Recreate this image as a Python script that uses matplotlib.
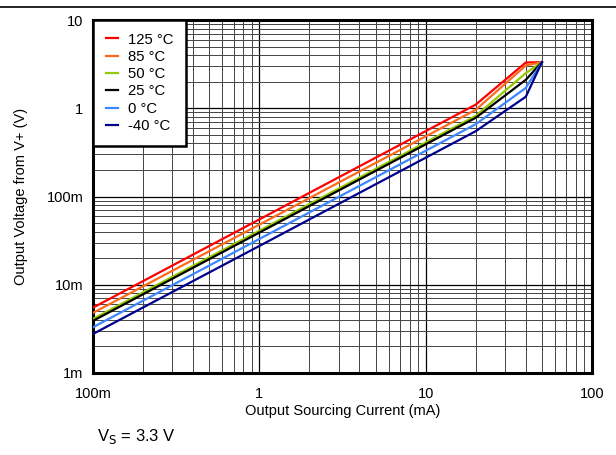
import matplotlib
matplotlib.use("Agg")
import matplotlib.pyplot as plt
from matplotlib.lines import Line2D
from matplotlib.ticker import FixedLocator, LogLocator, NullFormatter

plt.rcParams['font.family'] = ['Liberation Sans', 'DejaVu Sans']

# output sourcing current (mA)
current = [0.1, 1, 10, 20, 40, 50]

# output voltage from V+ (V), per temperature
v_125 = [5.5e-3, 55e-3, 0.55, 1.10, 3.30, 3.33]
v_85 = [4.8e-3, 48e-3, 0.48, 0.96, 3.05, 3.33]
v_50 = [4.1e-3, 41e-3, 0.41, 0.82, 2.50, 3.33]
v_25 = [3.9e-3, 39e-3, 0.39, 0.78, 2.10, 3.33]
v_0 = [3.3e-3, 33e-3, 0.33, 0.66, 1.70, 3.33]
v_m40 = [2.77e-3, 27.5e-3, 0.275, 0.55, 1.35, 3.33]

labels = ["125 °C", "85 °C", "50 °C", "25 °C", "0 °C", "-40 °C"]
colors = ["#ff0000", "#ff6a1a", "#96c800", "#000000", "#3c87ff", "#00008c"]
series = [v_125, v_85, v_50, v_25, v_0, v_m40]

x_ticks = [0.1, 1, 10, 100]
x_ticklabels = ["100m", "1", "10", "100"]
y_ticks = [1e-3, 1e-2, 1e-1, 1, 10]
y_ticklabels = ["1m", "10m", "100m", "1", "10"]

fig = plt.figure(figsize=(6.16, 4.55), dpi=100)
ax = fig.add_axes([93/616, 1 - 373/455, (592-93)/616, (373-20)/455])

for v, lab, c in zip(series, labels, colors):
    ax.plot(current, v, color=c, lw=1.6, label=lab, zorder=3)

ax.set_xscale("log")
ax.set_yscale("log")
ax.set_xlim(0.1, 100)
ax.set_ylim(1e-3, 10)

ax.xaxis.set_major_locator(FixedLocator(x_ticks))
ax.set_xticklabels(x_ticklabels)
ax.yaxis.set_major_locator(FixedLocator(y_ticks))
ax.set_yticklabels(y_ticklabels)
ax.xaxis.set_minor_locator(LogLocator(base=10, subs=range(2, 10)))
ax.yaxis.set_minor_locator(LogLocator(base=10, subs=range(2, 10)))
ax.xaxis.set_minor_formatter(NullFormatter())
ax.yaxis.set_minor_formatter(NullFormatter())

ax.grid(which="major", color="#000000", lw=0.9)
ax.grid(which="minor", color="#444444", lw=0.7)
ax.tick_params(which="both", length=0, labelsize=10.5, colors="black")
ax.tick_params(axis="x", pad=10)
ax.tick_params(axis="y", pad=7)

for s in ax.spines.values():
    s.set_linewidth(2.2)

ax.set_xlabel("Output Sourcing Current (mA)", fontsize=10.5, labelpad=2)
ax.set_ylabel("Output Voltage from V+ (V)", fontsize=10.5, labelpad=13)

leg = ax.legend(loc="upper left", fontsize=10.7, frameon=True, fancybox=False,
                borderaxespad=0, handlelength=0.85, handletextpad=0.65,
                labelspacing=0.22, borderpad=0.85)
leg.get_frame().set_edgecolor("black")
leg.get_frame().set_linewidth(1.8)
leg.get_frame().set_alpha(1)

fig.text(97/616, 1 - 437/455, r"V$_\mathrm{S}$ = 3.3 V", fontsize=12, va="center")
fig.add_artist(Line2D([0, 1], [1 - 6.5/455, 1 - 6.5/455], color="black", lw=1.2))

fig.savefig("out.png", dpi=100)
